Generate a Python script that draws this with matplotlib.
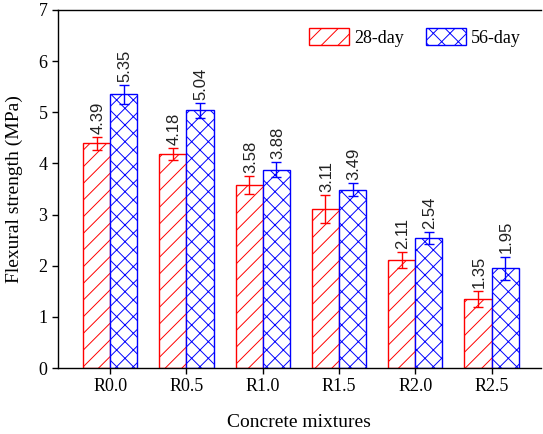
import matplotlib
matplotlib.use("Agg")
import matplotlib.pyplot as plt
import numpy as np

plt.rcParams['font.family'] = ['Liberation Serif', 'DejaVu Serif']
plt.rcParams['hatch.linewidth'] = 0.7

categories = ["R0.0", "R0.5", "R1.0", "R1.5", "R2.0", "R2.5"]
day28 = [4.39, 4.18, 3.58, 3.11, 2.11, 1.35]
day56 = [5.35, 5.04, 3.88, 3.49, 2.54, 1.95]
err28 = [0.13, 0.12, 0.17, 0.27, 0.15, 0.16]
err56 = [0.18, 0.15, 0.15, 0.12, 0.12, 0.23]
yticks = [0, 1, 2, 3, 4, 5, 6, 7]

fig = plt.figure(figsize=(5.43, 4.34), dpi=100)
ax = fig.add_axes([0.1068, 0.152, 0.889, 0.825])

x = np.arange(len(categories))
w = 0.355
red = '#FF0000'
blue = '#0000FF'

ax.bar(x - w / 2, day28, w, facecolor='white', edgecolor=red, hatch='//', linewidth=1.0,
       label='28-day', zorder=2)
ax.bar(x + w / 2, day56, w, facecolor='white', edgecolor=blue, hatch='xx', linewidth=1.0,
       label='56-day', zorder=2)
ax.errorbar(x - w / 2, day28, yerr=err28, fmt='none', ecolor=red, elinewidth=1.0, capsize=3.5,
            capthick=1.0, zorder=3)
ax.errorbar(x + w / 2, day56, yerr=err56, fmt='none', ecolor=blue, elinewidth=1.0, capsize=3.5,
            capthick=1.0, zorder=3)

lab_font = dict(family=['Liberation Sans', 'DejaVu Sans'], size=12)
for xi, v, e in zip(x - w / 2, day28, err28):
    ax.annotate(f"{v:.2f}", (xi, v + e), xytext=(0.8, 2.2), textcoords='offset points',
                rotation=90, ha='center', va='bottom', color='#222222', **lab_font)
for xi, v, e in zip(x + w / 2, day56, err56):
    ax.annotate(f"{v:.2f}", (xi, v + e), xytext=(0.8, 2.2), textcoords='offset points',
                rotation=90, ha='center', va='bottom', color='#222222', **lab_font)

ax.set_xlim(-0.685, 5.645)
ax.set_ylim(0, 7)
ax.set_yticks(yticks)
ax.set_xticks(x)
ax.set_xticklabels(categories)
ax.tick_params(direction='out', length=4, width=1, labelsize=13)
ax.spines['right'].set_visible(False)
for s in ['left', 'bottom', 'top']:
    ax.spines[s].set_linewidth(1.0)

ax.set_xlabel('Concrete mixtures', fontsize=14, labelpad=13)
ax.set_ylabel('Flexural strength (MPa)', fontsize=14, labelpad=11)

ax.legend(loc='upper right', bbox_to_anchor=(0.985, 0.985), ncol=2, frameon=False, fontsize=13,
          handlelength=2.2, handleheight=1.1, handletextpad=0.3, columnspacing=1.2,
          borderaxespad=0.3)

fig.savefig('out.png', dpi=100)
